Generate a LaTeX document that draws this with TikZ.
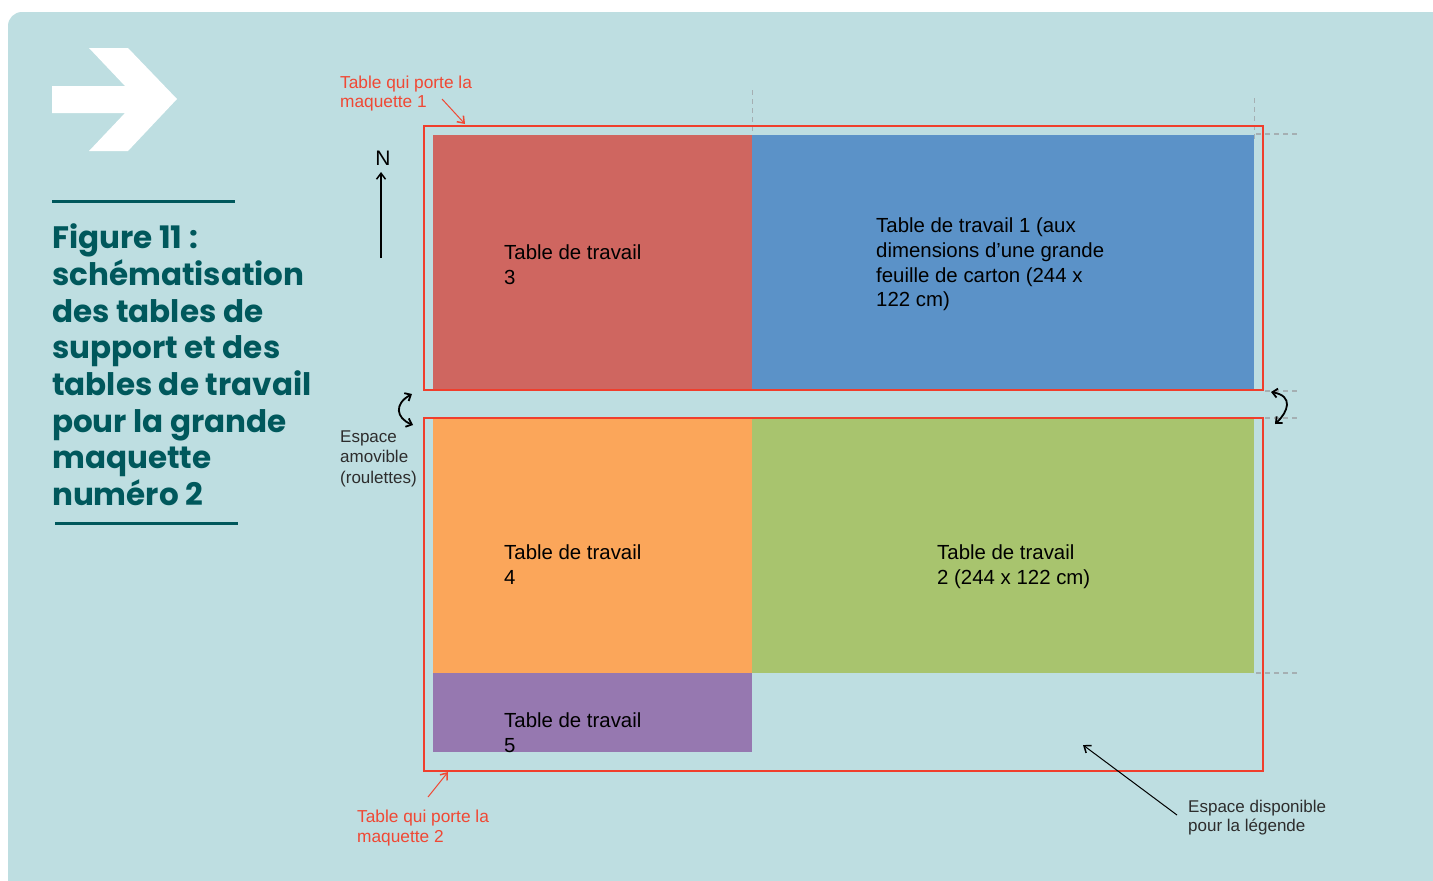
\documentclass[tikz,border=0pt]{standalone}
\usepackage{fontspec}
\setmainfont{Liberation Sans}
\newfontfamily\titlefont{Poppins}
\usetikzlibrary{arrows.meta}
\definecolor{bgblue}{RGB}{190,222,225}
\definecolor{titlecol}{RGB}{0,88,92}
\definecolor{framered}{RGB}{240,62,44}
\definecolor{labred}{RGB}{240,72,52}
\definecolor{darktxt}{RGB}{45,45,45}
\definecolor{tthree}{RGB}{207,102,96}
\definecolor{tone}{RGB}{91,146,200}
\definecolor{tfour}{RGB}{251,166,90}
\definecolor{ttwo}{RGB}{168,196,110}
\definecolor{tfive}{RGB}{150,120,176}
\definecolor{guide}{RGB}{165,175,178}
\tikzset{
  frame/.style={draw=framered, line width=2pt},
  guideline/.style={draw=guide, line width=1.5pt, dash pattern=on 5pt off 4pt},
  titleline/.style={titlecol, font=\titlefont\bfseries\fontsize{31}{36}\selectfont, anchor=base west, inner sep=0pt},
  tablabel/.style={text=black, font=\fontsize{20.4}{24}\selectfont, anchor=base west, inner sep=0pt},
  redlabel/.style={text=labred, font=\fontsize{17.3}{20}\selectfont, anchor=base west, inner sep=0pt},
  graylabel/.style={text=darktxt, font=\fontsize{17}{20}\selectfont, anchor=base west, inner sep=0pt},
  redarrow/.style={draw=labred, line width=1pt, -{Straight Barb[length=6pt,width=9pt,line width=1.5pt]}},
  blackarrow/.style={draw=black, line width=1pt, -{Straight Barb[length=6pt,width=9pt,line width=1.5pt]}},
  curlyarrow/.style={draw=black, line width=1.8pt, {Straight Barb[length=5pt,width=9pt]}-{Straight Barb[length=5pt,width=9pt]}},
}
\begin{document}
\begin{tikzpicture}[x=1pt,y=-1pt]
\useasboundingbox (0,0) rectangle (1433,881);
\fill[white] (0,0) rectangle (1433,881);
\fill[bgblue, rounded corners=14pt] (8,12) rectangle (1470,920);

% white arrow
\fill[white] (52,86) -- (125,86) -- (89,48) -- (128,48) -- (177,99) -- (128,151) -- (89,151) -- (125,113) -- (52,113) -- cycle;

% title
\draw[titlecol, line width=3pt] (52,201.5) -- (235,201.5);
\node[titleline] (ti1) at (52,248) {Figure 11 :};
\node[titleline] (ti2) at (52,285) {schématisation};
\node[titleline] (ti3) at (52,322) {des tables de};
\node[titleline] (ti4) at (52,358) {support et des};
\node[titleline] (ti5) at (52,395) {tables de travail};
\node[titleline] (ti6) at (52,432) {pour la grande};
\node[titleline] (ti7) at (52,468) {maquette};
\node[titleline] (ti8) at (52,505) {numéro 2};
\draw[titlecol, line width=3pt] (55,523) -- (238,523);

% guides
\draw[guideline] (752.5,90) -- (752.5,135);
\draw[guideline] (1254.5,98) -- (1254.5,140);
\draw[guideline] (1256,134) -- (1298,134);
\draw[guideline] (1265,391) -- (1298,391);
\draw[guideline] (1265,418) -- (1298,418);
\draw[guideline] (1256,673) -- (1298,673);

% tables
\fill[tthree] (433,135) rectangle (752,390);
\fill[tone] (752,135) rectangle (1254,390);
\fill[tfour] (433,418) rectangle (752,673);
\fill[ttwo] (752,418) rectangle (1254,673);
\fill[tfive] (433,673) rectangle (752,752);

% support frames
\draw[frame] (424,126) rectangle (1263,390);
\draw[frame] (424,418) rectangle (1263,771);

% table labels
\node[tablabel] (a1) at (504,259) {Table de travail};
\node[tablabel] (a2) at (504,284) {3};
\node[tablabel] (b1) at (876,232) {Table de travail 1 (aux};
\node[tablabel] (b2) at (876,257) {dimensions d’une grande};
\node[tablabel] (b3) at (876,282) {feuille de carton (244 x};
\node[tablabel] (b4) at (876,306) {122 cm)};
\node[tablabel] (c1) at (504,559) {Table de travail};
\node[tablabel] (c2) at (504,584) {4};
\node[tablabel] (d1) at (937,559) {Table de travail};
\node[tablabel] (d2) at (937,584) {2 (244 x 122 cm)};
\node[tablabel] (e1) at (504,727) {Table de travail};
\node[tablabel] (e2) at (504,752) {5};

% north arrow
\node[text=black, font=\fontsize{21}{24}\selectfont, anchor=base, inner sep=0pt] (N) at (383,165) {N};
\coordinate (ntail) at (381,258);
\coordinate (nhead) at (381,172);
\draw[blackarrow, line width=1.5pt] (ntail) -- (nhead);

% red labels
\node[redlabel] (m1a) at (340,88) {Table qui porte la};
\node[redlabel] (m1b) at (340,107) {maquette 1};
\coordinate (m1t) at (442,99);
\coordinate (m1h) at (465,124);
\draw[redarrow] (m1t) -- (m1h);
\node[redlabel] (m2a) at (357,822) {Table qui porte la};
\node[redlabel] (m2b) at (357,842) {maquette 2};
\coordinate (m2t) at (428,797);
\coordinate (m2h) at (448,772);
\draw[redarrow] (m2t) -- (m2h);

% espace amovible
\node[graylabel] (g1) at (340,442) {Espace};
\node[graylabel] (g2) at (340,462.5) {amovible};
\node[graylabel] (g3) at (340,483) {(roulettes)};
\coordinate (lc1) at (412,394);
\coordinate (lc2) at (413,425);
\draw[curlyarrow] (lc1) .. controls (394,404) and (396,418) .. (lc2);
\coordinate (rc1) at (1271,392);
\coordinate (rc2) at (1275,424);
\draw[curlyarrow] (rc1) .. controls (1294,396) and (1288,412) .. (rc2);

% legend space
\node[graylabel] (l1) at (1188,812) {Espace disponible};
\node[graylabel] (l2) at (1188,831) {pour la légende};
\coordinate (lt) at (1177,815);
\coordinate (lh) at (1083,745);
\draw[blackarrow] (lt) -- (lh);
\end{tikzpicture}
\end{document}
